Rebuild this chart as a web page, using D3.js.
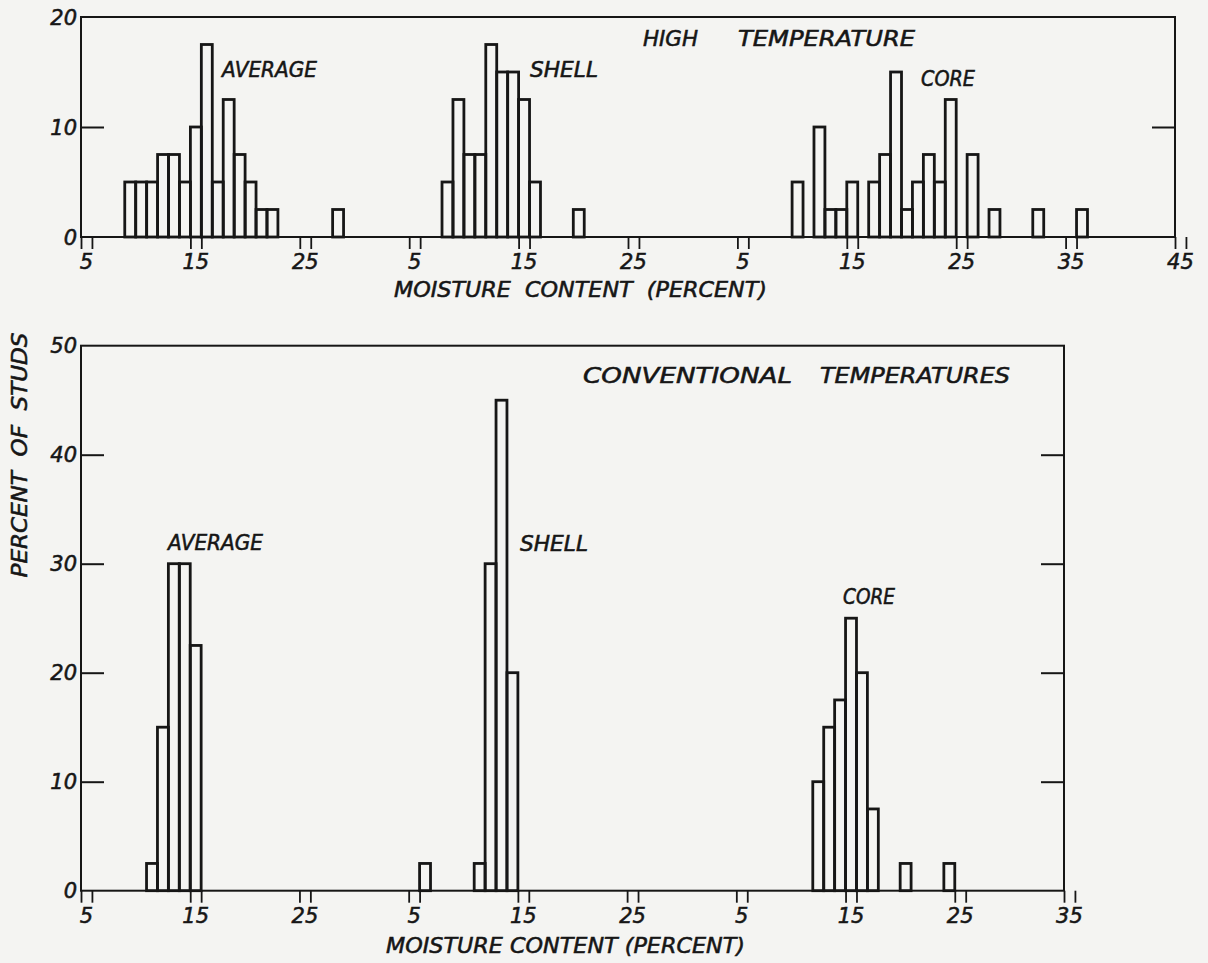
<!DOCTYPE html>
<html>
<head>
<meta charset="utf-8">
<script src="https://cdn.jsdelivr.net/npm/d3@7/dist/d3.min.js"></script>
<style>
  html, body { margin: 0; padding: 0; background: #f4f4f2; }
  svg { display: block; }
  text { font-family: "DejaVu Sans", sans-serif; font-style: italic; fill: #161616; stroke: #161616; stroke-width: 0.55px; }
</style>
</head>
<body>
<svg id="chart" width="1208" height="963"></svg>
<script>
// ---------------- DATA ----------------
// Each panel has three histograms (AVERAGE, SHELL, CORE) drawn on three
// consecutive moisture-content scales. Bins are 1 percent wide, centred on the value.
const hiAvgBins   = [9, 10, 11, 12, 13, 14, 15, 16, 17, 18, 19, 20, 21, 22, 28];
const hiAvgPct    = [5, 5, 5, 7.5, 7.5, 5, 10, 17.5, 5, 12.5, 7.5, 5, 2.5, 2.5, 2.5];
const hiShellBins = [8, 9, 10, 11, 12, 13, 14, 15, 16, 20];
const hiShellPct  = [5, 12.5, 7.5, 7.5, 17.5, 15, 15, 12.5, 5, 2.5];
const hiCoreBins  = [10, 12, 13, 14, 15, 17, 18, 19, 20, 21, 22, 23, 24, 26, 28, 32, 36];
const hiCorePct   = [5, 10, 2.5, 2.5, 5, 5, 7.5, 15, 2.5, 5, 7.5, 5, 12.5, 7.5, 2.5, 2.5, 2.5];

const convAvgBins   = [11, 12, 13, 14, 15];
const convAvgPct    = [2.5, 15, 30, 30, 22.5];
const convShellBins = [6, 11, 12, 13, 14];
const convShellPct  = [2.5, 2.5, 30, 45, 20];
const convCoreBins  = [12, 13, 14, 15, 16, 17, 20, 24];
const convCorePct   = [10, 15, 17.5, 25, 20, 7.5, 2.5, 2.5];

const hiXTickLabels   = [[5, 15, 25], [5, 15, 25], [5, 15, 25, 35, 45]];
const convXTickLabels = [[5, 15, 25], [5, 15, 25], [5, 15, 25, 35]];
const hiYTicks   = [0, 10, 20];
const convYTicks = [0, 10, 20, 30, 40, 50];

const seriesNames = ["AVERAGE", "SHELL", "CORE"];
const hiTitle   = ["HIGH", "TEMPERATURE"];
const convTitle = ["CONVENTIONAL", "TEMPERATURES"];
const xTitleTop = "MOISTURE  CONTENT  (PERCENT)";
const xTitle = "MOISTURE CONTENT (PERCENT)";
const yTitle = "PERCENT  OF  STUDS";

// ---------------- DRAWING ----------------
const svg = d3.select("#chart");
svg.append("rect").attr("width", 1208).attr("height", 963).attr("fill", "#f4f4f2");

const SEG = 30; // each sub-scale spans 30 percent of the shared axis
const FS = 21;

function drawPanel(cfg) {
  const g = svg.append("g");
  const x = d3.scaleLinear().domain([4.5, cfg.uMax]).range([cfg.x0, cfg.x1]);
  const y = d3.scaleLinear().domain([0, cfg.yMax]).range([cfg.y1, cfg.y0]);
  const ink = "#161616";

  // bars
  cfg.series.forEach((s, si) => {
    const data = s.bins.map((b, i) => ({ u: b + si * SEG, v: s.pct[i] }));
    g.append("g").selectAll("rect").data(data).join("rect")
      .attr("x", d => x(d.u - 0.5))
      .attr("width", d => x(d.u + 0.5) - x(d.u - 0.5))
      .attr("y", d => y(d.v))
      .attr("height", d => y(0) - y(d.v))
      .attr("fill", "none")
      .attr("stroke", ink)
      .attr("stroke-width", 2.8);
  });

  // frame and baseline
  g.append("rect")
    .attr("x", cfg.x0).attr("y", cfg.y0)
    .attr("width", cfg.x1 - cfg.x0).attr("height", cfg.y1 - cfg.y0)
    .attr("fill", "none").attr("stroke", ink).attr("stroke-width", 2);

  // inner y ticks, left and right
  const inner = cfg.yTicks.filter(t => t > 0 && t < cfg.yMax);
  const la = g.append("g").attr("transform", `translate(${cfg.x0},0)`)
    .call(d3.axisLeft(y).tickValues(inner).tickSize(-23).tickFormat(""));
  const ra = g.append("g").attr("transform", `translate(${cfg.x1},0)`)
    .call(d3.axisRight(y).tickValues(inner).tickSize(-23).tickFormat(""));
  [la, ra].forEach(a => {
    a.select(".domain").remove();
    a.selectAll("line").attr("stroke", ink).attr("stroke-width", 2);
  });

  // y tick labels
  g.append("g").selectAll("text").data(cfg.yTicks).join("text")
    .attr("x", cfg.x0 - 4)
    .attr("y", d => y(d))
    .attr("dy", "0.36em")
    .attr("text-anchor", "end")
    .attr("font-size", FS)
    .text(d => d);

  // x ticks: pairs of short marks at bin edges of each labelled value
  const labU = [];
  cfg.xLabels.forEach((arr, si) => arr.forEach(v => labU.push({ u: v + si * SEG, v })));
  const pairU = [];
  labU.forEach(d => { pairU.push(d.u - 0.5); pairU.push(d.u + 0.5); });
  const xa = g.append("g").attr("transform", `translate(0,${cfg.y1})`)
    .call(d3.axisBottom(x).tickValues(pairU).tickSize(12).tickFormat(""));
  xa.select(".domain").remove();
  xa.selectAll("line").attr("stroke", ink).attr("stroke-width", 1.8);

  g.append("g").selectAll("text").data(labU).join("text")
    .attr("x", d => x(d.u))
    .attr("y", cfg.y1 + cfg.labOff)
    .attr("text-anchor", "middle")
    .attr("font-size", FS)
    .text(d => d.v);

  // x title
  g.append("text")
    .attr("x", cfg.xt.x).attr("y", cfg.xt.y)
    .attr("font-size", FS)
    .attr("textLength", cfg.xt.len).attr("lengthAdjust", "spacingAndGlyphs")
    .style("white-space", "pre")
    .text(cfg.xt.text);

  // series labels and panel title
  cfg.names.forEach(n => {
    g.append("text").attr("x", n.x).attr("y", n.y).attr("font-size", FS)
      .attr("textLength", n.len).attr("lengthAdjust", "spacingAndGlyphs")
      .text(n.t);
  });
}

drawPanel({
  x0: 81, x1: 1175, y0: 17, y1: 237, uMax: 104.5, yMax: 20,
  yTicks: hiYTicks, xLabels: hiXTickLabels, labOff: 32,
  series: [
    { bins: hiAvgBins, pct: hiAvgPct },
    { bins: hiShellBins, pct: hiShellPct },
    { bins: hiCoreBins, pct: hiCorePct }
  ],
  xt: { text: xTitleTop, x: 394, y: 297, len: 373 },
  names: [
    { t: seriesNames[0], x: 222, y: 77, len: 95 },
    { t: seriesNames[1], x: 530, y: 77, len: 68 },
    { t: seriesNames[2], x: 921, y: 86, len: 54 },
    { t: hiTitle[0], x: 643, y: 46, len: 55 },
    { t: hiTitle[1], x: 738, y: 46, len: 177 }
  ]
});

drawPanel({
  x0: 81, x1: 1064, y0: 345.7, y1: 890.7, uMax: 94.5, yMax: 50,
  yTicks: convYTicks, xLabels: convXTickLabels, labOff: 32,
  series: [
    { bins: convAvgBins, pct: convAvgPct },
    { bins: convShellBins, pct: convShellPct },
    { bins: convCoreBins, pct: convCorePct }
  ],
  xt: { text: xTitle, x: 386, y: 953, len: 359 },
  names: [
    { t: seriesNames[0], x: 168, y: 550, len: 95 },
    { t: seriesNames[1], x: 520, y: 551, len: 68 },
    { t: seriesNames[2], x: 843, y: 604, len: 52 },
    { t: convTitle[0], x: 583, y: 383, len: 209 },
    { t: convTitle[1], x: 820, y: 383, len: 190 }
  ]
});

// y title
svg.append("text")
  .attr("transform", "translate(27,455) rotate(-90)")
  .attr("text-anchor", "middle")
  .attr("font-size", FS)
  .attr("textLength", 245).attr("lengthAdjust", "spacingAndGlyphs")
  .style("white-space", "pre")
  .text(yTitle);
</script>
</body>
</html>
